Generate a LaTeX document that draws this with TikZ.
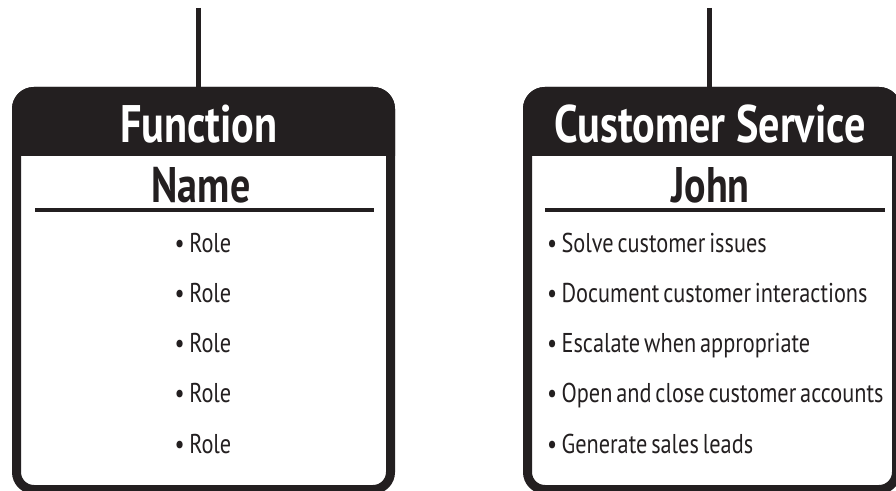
\documentclass[tikz,border=0pt]{standalone}
\usepackage{fontspec}
\setmainfont{PT Sans}[FakeStretch=0.82,WordSpace=0.65]
\newfontfamily\headfont{PT Sans}[FakeStretch=0.8]
\usepackage{tikz}
\usetikzlibrary{positioning}
\definecolor{ink}{HTML}{231F20}

\begin{document}
\begin{tikzpicture}[x=0.75pt,y=-0.75pt,node distance=37.7pt,
  card/.style={draw=ink,fill=white,line width=6.75pt,rounded corners=13pt,minimum height=298.5pt},
  title/.style={text=white,font=\headfont\bfseries\fontsize{39.6}{40}\selectfont,inner sep=0pt,anchor=base},
  who/.style={text=ink,font=\headfont\bfseries\fontsize{37.5}{38}\selectfont,inner sep=0pt,anchor=base},
  item/.style={text=ink,font=\fontsize{20.4}{22}\selectfont,inner sep=0pt,text width=270pt,text height=15pt,text depth=4pt},
  link/.style={draw=ink,line width=3.75pt}]
\useasboundingbox (0,0) rectangle (896,491);
\clip (0,0) rectangle (896,491);
  % the two cards
  \node[card,minimum width=280.5pt] (fcard) at (203.5,290.5) {};
  \node[card,minimum width=276.75pt] (ccard) at (712,290.5) {};
  \begin{scope}
    \clip (fcard.north west) rectangle (fcard.east |- 0,156);
    \fill[ink,rounded corners=16.4pt] (fcard.north west) rectangle (fcard.south east);
  \end{scope}
  \begin{scope}
    \clip (ccard.north west) rectangle (ccard.east |- 0,156);
    \fill[ink,rounded corners=16.4pt] (ccard.north west) rectangle (ccard.south east);
  \end{scope}
  % lines coming down from above
  \coordinate (ftop) at (198,8);
  \coordinate (ctop) at (709.5,8);
  \draw[link] (ftop) -- (ftop |- fcard.north);
  \draw[link] (ctop) -- (ctop |- ccard.north);
  % left card
  \node[title] (ftitle) at (199,143) {Function};
  \node[who] (fname) at (201,203) {Name};
  \draw[ink,line width=3pt] (35,210) -- (374,210);
  \node[item,align=flush center] (f1) at (203,244.7) {•\,Role};
  \node[item,align=flush center] (f2) [below of=f1] {•\,Role};
  \node[item,align=flush center] (f3) [below of=f2] {•\,Role};
  \node[item,align=flush center] (f4) [below of=f3] {•\,Role};
  \node[item,align=flush center] (f5) [below of=f4] {•\,Role};
  % right card
  \node[title] (ctitle) at (710,143) {Customer Service};
  \node[who] (cname) at (710.5,203) {John};
  \draw[ink,line width=3pt] (545,210) -- (885,210);
  \node[item,align=flush left] (c1) at (727,244.7) {•\,Solve customer issues};
  \node[item,align=flush left] (c2) [below of=c1] {•\,Document customer interactions};
  \node[item,align=flush left] (c3) [below of=c2] {•\,Escalate when appropriate};
  \node[item,align=flush left] (c4) [below of=c3] {•\,Open and close customer accounts};
  \node[item,align=flush left] (c5) [below of=c4] {•\,Generate sales leads};
\end{tikzpicture}
\end{document}
